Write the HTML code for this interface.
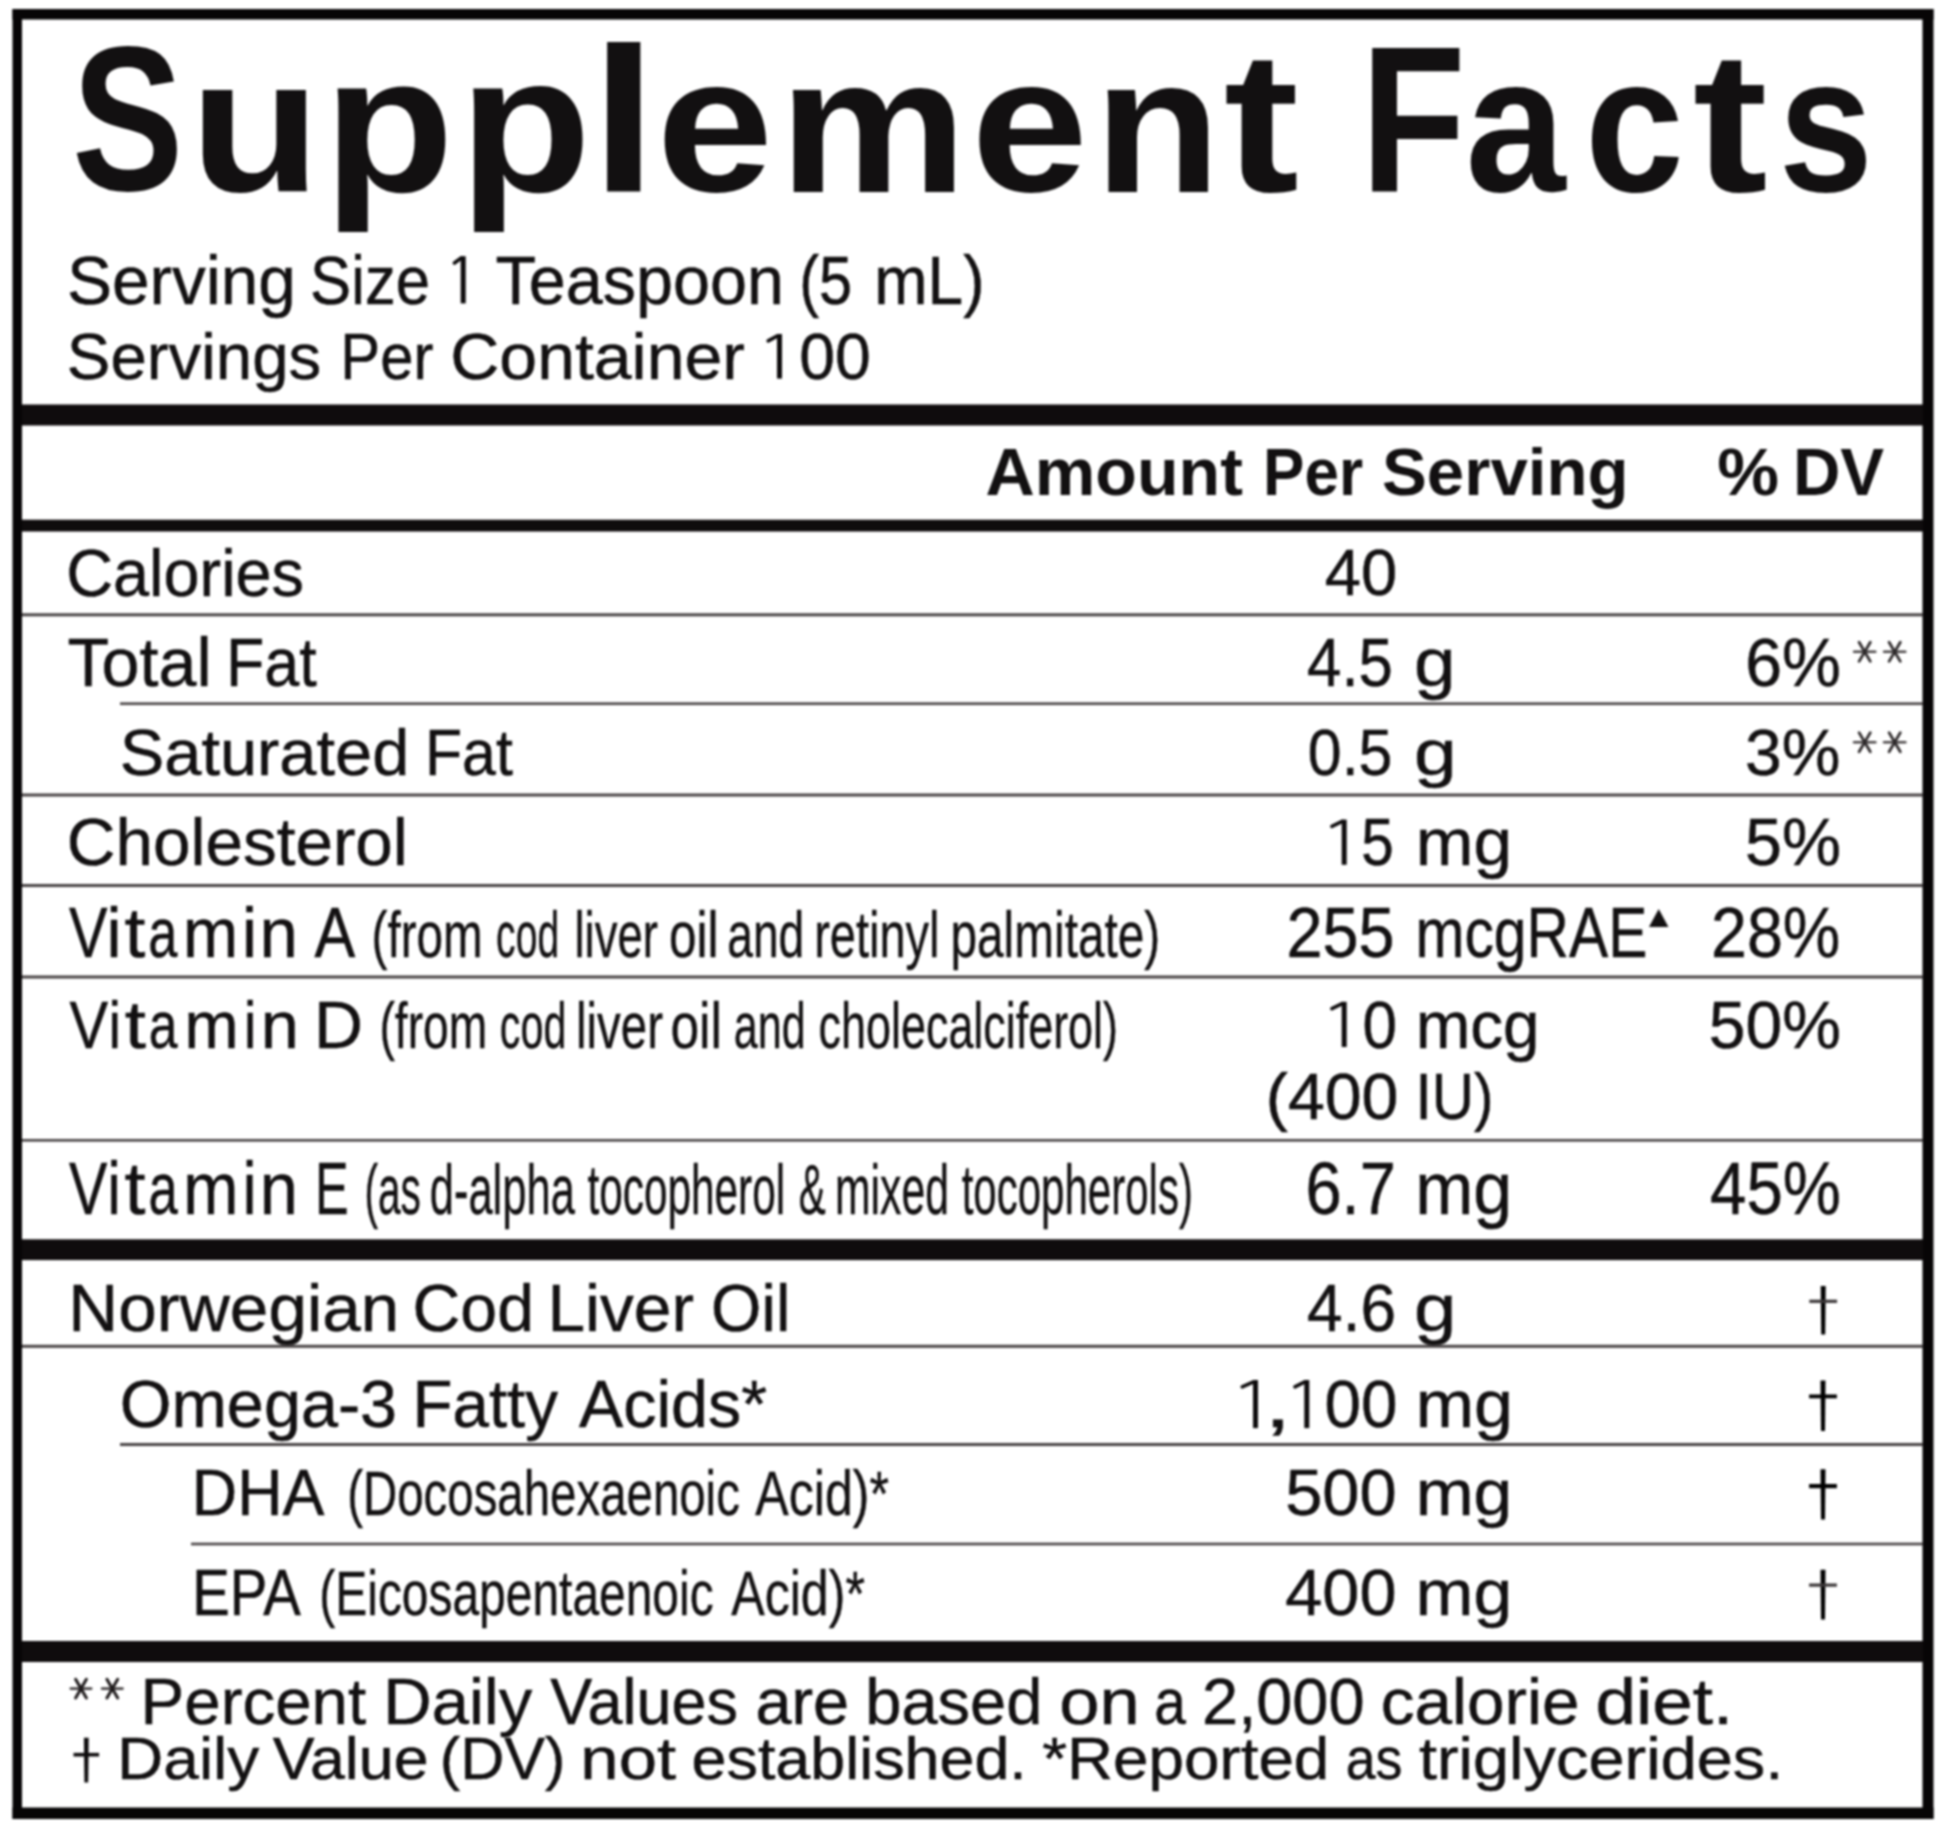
<!DOCTYPE html>
<html><head><meta charset="utf-8"><style>
html,body{margin:0;padding:0;background:#fff;}
svg{display:block;filter:blur(0.8px);}
text{font-family:"Liberation Sans",sans-serif;fill:#121011;}
</style></head><body>
<svg width="1946" height="1826" viewBox="0 0 1946 1826">
<rect x="0" y="0" width="1946" height="1826" fill="#fff"/>
<text transform="translate(71.99,190.33) scale(0.8350,1.0338)" font-size="200.00" font-weight="bold" fill="#1c1819">S</text>
<text transform="translate(189.50,191.09) scale(1.0753,0.9528)" font-size="200.00" font-weight="bold" fill="#1c1819">u</text>
<text transform="translate(323.61,192.48) scale(1.0683,0.9767)" font-size="200.00" font-weight="bold" fill="#1c1819">p</text>
<text transform="translate(459.12,192.48) scale(1.0832,0.9767)" font-size="200.00" font-weight="bold" fill="#1c1819">p</text>
<text transform="translate(590.35,191.17) scale(1.2107,1.0267)" font-size="200.00" font-weight="bold" fill="#1c1819">l</text>
<text transform="translate(656.61,191.08) scale(1.0490,0.9609)" font-size="200.00" font-weight="bold" fill="#1c1819">e</text>
<text transform="translate(778.95,192.20) scale(1.0575,0.9685)" font-size="200.00" font-weight="bold" fill="#1c1819">m</text>
<text transform="translate(971.31,191.08) scale(1.0490,0.9609)" font-size="200.00" font-weight="bold" fill="#1c1819">e</text>
<text transform="translate(1093.90,192.20) scale(1.0381,0.9685)" font-size="200.00" font-weight="bold" fill="#1c1819">n</text>
<text transform="translate(1223.84,190.98) scale(1.1306,1.0075)" font-size="200.00" font-weight="bold" fill="#1c1819">t</text>
<text transform="translate(1360.64,192.20) scale(0.8588,1.0362)" font-size="200.00" font-weight="bold" fill="#1c1819">F</text>
<text transform="translate(1465.60,191.07) scale(0.9000,0.9673)" font-size="200.00" font-weight="bold" fill="#1c1819">a</text>
<text transform="translate(1585.08,191.07) scale(0.8897,0.9673)" font-size="200.00" font-weight="bold" fill="#1c1819">c</text>
<text transform="translate(1692.75,190.99) scale(1.1258,1.0038)" font-size="200.00" font-weight="bold" fill="#1c1819">t</text>
<text transform="translate(1778.77,191.07) scale(0.8469,0.9673)" font-size="200.00" font-weight="bold" fill="#1c1819">s</text>
<text transform="translate(66.95,303.50) scale(0.9823,1)" font-size="68.75" font-weight="normal" stroke="#121011" stroke-width="0.5">Serving</text>
<text transform="translate(310.11,303.50) scale(0.8961,1)" font-size="68.75" font-weight="normal" stroke="#121011" stroke-width="0.5">Size</text>
<text transform="translate(495.53,303.50) scale(0.9676,1)" font-size="68.75" font-weight="normal" stroke="#121011" stroke-width="0.5">Teaspoon</text>
<text transform="translate(799.23,303.50) scale(0.8667,1)" font-size="68.75" font-weight="normal" stroke="#121011" stroke-width="0.5">(5</text>
<text transform="translate(874.24,303.50) scale(0.9312,1)" font-size="68.75" font-weight="normal" stroke="#121011" stroke-width="0.5">mL)</text>
<text transform="translate(66.87,378.60) scale(1.0085,1)" font-size="64.83" font-weight="normal" stroke="#121011" stroke-width="0.5">Servings</text>
<text transform="translate(340.29,378.60) scale(0.9221,1)" font-size="64.83" font-weight="normal" stroke="#121011" stroke-width="0.5">Per</text>
<text transform="translate(450.25,378.60) scale(1.0487,1)" font-size="64.83" font-weight="normal" stroke="#121011" stroke-width="0.5">Container</text>
<text transform="translate(799.21,378.60) scale(0.9926,1)" font-size="64.83" font-weight="normal" stroke="#121011" stroke-width="0.5">00</text>
<text transform="translate(985.45,495.20) scale(1.0237,1)" font-size="66.57" font-weight="bold">Amount</text>
<text transform="translate(1263.07,495.20) scale(0.9314,1)" font-size="66.57" font-weight="bold">Per</text>
<text transform="translate(1381.98,495.20) scale(1.0105,1)" font-size="66.57" font-weight="bold">Serving</text>
<text transform="translate(1717.31,495.20) scale(1.0436,1)" font-size="66.57" font-weight="bold">%</text>
<text transform="translate(1792.95,495.20) scale(0.9864,1)" font-size="66.57" font-weight="bold">DV</text>
<text transform="translate(66.26,596.00) scale(0.9802,1)" font-size="66.13" font-weight="normal" stroke="#121011" stroke-width="0.5">Calories</text>
<text transform="translate(1324.79,594.80) scale(1.0132,1)" font-size="64.24" font-weight="normal" stroke="#121011" stroke-width="0.5">40</text>
<text transform="translate(67.50,685.60) scale(0.9986,1)" font-size="68.31" font-weight="normal" stroke="#121011" stroke-width="0.5">Total</text>
<text transform="translate(225.99,685.60) scale(0.9185,1)" font-size="68.31" font-weight="normal" stroke="#121011" stroke-width="0.5">Fat</text>
<text transform="translate(1307.10,685.60) scale(0.9033,1)" font-size="68.31" font-weight="normal" stroke="#121011" stroke-width="0.5">4.5</text>
<text transform="translate(1414.12,685.60) scale(1.0935,1)" font-size="68.31" font-weight="normal" stroke="#121011" stroke-width="0.5">g</text>
<text transform="translate(1745.29,685.60) scale(0.9688,1)" font-size="68.31" font-weight="normal" stroke="#121011" stroke-width="0.5">6%</text>
<text transform="translate(119.75,775.30) scale(1.0165,1)" font-size="65.70" font-weight="normal" stroke="#121011" stroke-width="0.5">Saturated</text>
<text transform="translate(424.97,775.30) scale(0.9256,1)" font-size="65.70" font-weight="normal" stroke="#121011" stroke-width="0.5">Fat</text>
<text transform="translate(1307.85,775.30) scale(0.9253,1)" font-size="65.70" font-weight="normal" stroke="#121011" stroke-width="0.5">0.5</text>
<text transform="translate(1413.89,775.30) scale(1.1690,1)" font-size="65.70" font-weight="normal" stroke="#121011" stroke-width="0.5">g</text>
<text transform="translate(1744.99,775.30) scale(1.0033,1)" font-size="65.70" font-weight="normal" stroke="#121011" stroke-width="0.5">3%</text>
<text transform="translate(66.74,865.00) scale(1.0199,1)" font-size="66.13" font-weight="normal" stroke="#121011" stroke-width="0.5">Cholesterol</text>
<text transform="translate(1361.15,865.00) scale(0.8839,1)" font-size="66.13" font-weight="normal" stroke="#121011" stroke-width="0.5">5</text>
<text transform="translate(1415.80,865.00) scale(1.0488,1)" font-size="66.13" font-weight="normal" stroke="#121011" stroke-width="0.5">mg</text>
<text transform="translate(1744.99,865.00) scale(1.0033,1)" font-size="66.13" font-weight="normal" stroke="#121011" stroke-width="0.5">5%</text>
<text transform="translate(69.00,957.20) scale(0.8239,1)" font-size="70.06" font-weight="normal" stroke="#121011" stroke-width="0.5">V</text>
<text transform="translate(106.57,957.20) scale(0.9667,1)" font-size="70.06" font-weight="normal" stroke="#121011" stroke-width="0.5">i</text>
<text transform="translate(124.43,957.20) scale(1.0722,1)" font-size="70.06" font-weight="normal" stroke="#121011" stroke-width="0.5">t</text>
<text transform="translate(148.36,957.20) scale(0.7472,1)" font-size="70.06" font-weight="normal" stroke="#121011" stroke-width="0.5">a</text>
<text transform="translate(183.08,957.20) scale(0.9449,1)" font-size="70.06" font-weight="normal" stroke="#121011" stroke-width="0.5">m</text>
<text transform="translate(242.07,957.20) scale(0.9667,1)" font-size="70.06" font-weight="normal" stroke="#121011" stroke-width="0.5">i</text>
<text transform="translate(259.38,957.20) scale(0.9833,1)" font-size="70.06" font-weight="normal" stroke="#121011" stroke-width="0.5">n</text>
<text transform="translate(314.40,957.20) scale(0.8717,1)" font-size="70.06" font-weight="normal" stroke="#121011" stroke-width="0.5">A</text>
<text transform="translate(1286.43,957.20) scale(0.9243,1)" font-size="70.06" font-weight="normal" stroke="#121011" stroke-width="0.5">255</text>
<text transform="translate(1415.40,957.20) scale(0.8398,1)" font-size="70.06" font-weight="normal" stroke="#121011" stroke-width="0.5">mcgRAE</text>
<text transform="translate(1710.93,957.20) scale(0.9230,1)" font-size="70.06" font-weight="normal" stroke="#121011" stroke-width="0.5">28%</text>
<text transform="translate(1642.28,927.40) scale(0.1664,0.1543)" font-size="200.00" font-weight="normal">▲</text>
<text transform="translate(371.59,957.20) scale(0.7285,1)" font-size="65.41" font-weight="normal" stroke="#121011" stroke-width="0.4">(from</text>
<text transform="translate(496.11,957.20) scale(0.5980,1)" font-size="65.41" font-weight="normal" stroke="#121011" stroke-width="0.4">cod</text>
<text transform="translate(574.42,957.20) scale(0.6957,1)" font-size="65.41" font-weight="normal" stroke="#121011" stroke-width="0.4">liver</text>
<text transform="translate(669.03,957.20) scale(0.7569,1)" font-size="65.41" font-weight="normal" stroke="#121011" stroke-width="0.4">oil</text>
<text transform="translate(727.18,957.20) scale(0.7069,1)" font-size="65.41" font-weight="normal" stroke="#121011" stroke-width="0.4">and</text>
<text transform="translate(814.13,957.20) scale(0.7181,1)" font-size="65.41" font-weight="normal" stroke="#121011" stroke-width="0.4">retinyl</text>
<text transform="translate(950.48,957.20) scale(0.7305,1)" font-size="65.41" font-weight="normal" stroke="#121011" stroke-width="0.4">palmitate)</text>
<text transform="translate(69.50,1048.00) scale(0.8614,1)" font-size="67.30" font-weight="normal" stroke="#121011" stroke-width="0.5">V</text>
<text transform="translate(108.59,1048.00) scale(0.8286,1)" font-size="67.30" font-weight="normal" stroke="#121011" stroke-width="0.5">i</text>
<text transform="translate(124.86,1048.00) scale(1.1353,1)" font-size="67.30" font-weight="normal" stroke="#121011" stroke-width="0.5">t</text>
<text transform="translate(148.79,1048.00) scale(0.7686,1)" font-size="67.30" font-weight="normal" stroke="#121011" stroke-width="0.5">a</text>
<text transform="translate(184.44,1048.00) scale(0.9646,1)" font-size="67.30" font-weight="normal" stroke="#121011" stroke-width="0.5">m</text>
<text transform="translate(244.09,1048.00) scale(0.8286,1)" font-size="67.30" font-weight="normal" stroke="#121011" stroke-width="0.5">i</text>
<text transform="translate(260.73,1048.00) scale(1.0172,1)" font-size="67.30" font-weight="normal" stroke="#121011" stroke-width="0.5">n</text>
<text transform="translate(313.96,1048.00) scale(1.0075,1)" font-size="67.30" font-weight="normal" stroke="#121011" stroke-width="0.5">D</text>
<text transform="translate(1362.43,1048.00) scale(0.9219,1)" font-size="67.30" font-weight="normal" stroke="#121011" stroke-width="0.5">0</text>
<text transform="translate(1415.70,1048.00) scale(0.9748,1)" font-size="67.30" font-weight="normal" stroke="#121011" stroke-width="0.5">mcg</text>
<text transform="translate(1708.86,1048.00) scale(0.9806,1)" font-size="67.30" font-weight="normal" stroke="#121011" stroke-width="0.5">50%</text>
<text transform="translate(379.44,1048.00) scale(0.7147,1)" font-size="64.68" font-weight="normal" stroke="#121011" stroke-width="0.4">(from</text>
<text transform="translate(499.79,1048.00) scale(0.6381,1)" font-size="64.68" font-weight="normal" stroke="#121011" stroke-width="0.4">cod</text>
<text transform="translate(576.07,1048.00) scale(0.7325,1)" font-size="64.68" font-weight="normal" stroke="#121011" stroke-width="0.4">liver</text>
<text transform="translate(670.41,1048.00) scale(0.7965,1)" font-size="64.68" font-weight="normal" stroke="#121011" stroke-width="0.4">oil</text>
<text transform="translate(733.70,1048.00) scale(0.6673,1)" font-size="64.68" font-weight="normal" stroke="#121011" stroke-width="0.4">and</text>
<text transform="translate(818.62,1048.00) scale(0.6943,1)" font-size="64.68" font-weight="normal" stroke="#121011" stroke-width="0.4">cholecalciferol)</text>
<text transform="translate(1265.85,1118.50) scale(1.0129,1)" font-size="65.41" font-weight="normal" stroke="#121011" stroke-width="0.5">(400</text>
<text transform="translate(1415.43,1118.50) scale(0.8948,1)" font-size="65.41" font-weight="normal" stroke="#121011" stroke-width="0.5">IU)</text>
<text transform="translate(69.00,1214.20) scale(0.7735,1)" font-size="74.42" font-weight="normal" stroke="#121011" stroke-width="0.5">V</text>
<text transform="translate(107.26,1214.20) scale(0.8286,1)" font-size="74.42" font-weight="normal" stroke="#121011" stroke-width="0.5">i</text>
<text transform="translate(124.48,1214.20) scale(1.0158,1)" font-size="74.42" font-weight="normal" stroke="#121011" stroke-width="0.5">t</text>
<text transform="translate(148.48,1214.20) scale(0.7079,1)" font-size="74.42" font-weight="normal" stroke="#121011" stroke-width="0.5">a</text>
<text transform="translate(183.35,1214.20) scale(0.8904,1)" font-size="74.42" font-weight="normal" stroke="#121011" stroke-width="0.5">m</text>
<text transform="translate(242.76,1214.20) scale(0.8286,1)" font-size="74.42" font-weight="normal" stroke="#121011" stroke-width="0.5">i</text>
<text transform="translate(259.69,1214.20) scale(0.9219,1)" font-size="74.42" font-weight="normal" stroke="#121011" stroke-width="0.5">n</text>
<text transform="translate(314.93,1214.20) scale(0.6780,1)" font-size="74.42" font-weight="normal" stroke="#121011" stroke-width="0.5">E</text>
<text transform="translate(1305.40,1214.20) scale(0.8740,1)" font-size="74.42" font-weight="normal" stroke="#121011" stroke-width="0.5">6.7</text>
<text transform="translate(1415.21,1214.20) scale(0.9383,1)" font-size="74.42" font-weight="normal" stroke="#121011" stroke-width="0.5">mg</text>
<text transform="translate(1710.04,1214.20) scale(0.8785,1)" font-size="74.42" font-weight="normal" stroke="#121011" stroke-width="0.5">45%</text>
<text transform="translate(364.47,1214.20) scale(0.5822,1)" font-size="69.77" font-weight="normal" stroke="#121011" stroke-width="0.4">(as</text>
<text transform="translate(429.73,1214.20) scale(0.6235,1)" font-size="69.77" font-weight="normal" stroke="#121011" stroke-width="0.4">d-alpha</text>
<text transform="translate(587.39,1214.20) scale(0.6072,1)" font-size="69.77" font-weight="normal" stroke="#121011" stroke-width="0.4">tocopherol</text>
<text transform="translate(798.64,1214.20) scale(0.5795,1)" font-size="69.77" font-weight="normal" stroke="#121011" stroke-width="0.4">&amp;</text>
<text transform="translate(834.94,1214.20) scale(0.6124,1)" font-size="69.77" font-weight="normal" stroke="#121011" stroke-width="0.4">mixed</text>
<text transform="translate(961.70,1214.20) scale(0.6024,1)" font-size="69.77" font-weight="normal" stroke="#121011" stroke-width="0.4">tocopherols)</text>
<text transform="translate(68.15,1331.00) scale(1.0298,1)" font-size="67.30" font-weight="normal" stroke="#121011" stroke-width="0.5">Norwegian</text>
<text transform="translate(412.55,1331.00) scale(0.9836,1)" font-size="67.30" font-weight="normal" stroke="#121011" stroke-width="0.5">Cod</text>
<text transform="translate(547.38,1331.00) scale(1.0050,1)" font-size="67.30" font-weight="normal" stroke="#121011" stroke-width="0.5">Liver</text>
<text transform="translate(711.11,1331.00) scale(0.9627,1)" font-size="67.30" font-weight="normal" stroke="#121011" stroke-width="0.5">Oil</text>
<text transform="translate(1307.05,1331.00) scale(0.9511,1)" font-size="67.30" font-weight="normal" stroke="#121011" stroke-width="0.5">4.6</text>
<text transform="translate(1414.01,1331.00) scale(1.1300,1)" font-size="67.30" font-weight="normal" stroke="#121011" stroke-width="0.5">g</text>
<text transform="translate(119.70,1426.80) scale(0.9996,1)" font-size="66.57" font-weight="normal" stroke="#121011" stroke-width="0.5">Omega-3</text>
<text transform="translate(412.48,1426.80) scale(0.9839,1)" font-size="66.57" font-weight="normal" stroke="#121011" stroke-width="0.5">Fatty</text>
<text transform="translate(579.00,1426.80) scale(0.9963,1)" font-size="66.57" font-weight="normal" stroke="#121011" stroke-width="0.5">Acids*</text>
<text transform="translate(1264.26,1426.80) scale(1.4571,1)" font-size="66.57" font-weight="normal" stroke="#121011" stroke-width="0.5">,</text>
<text transform="translate(1324.44,1426.80) scale(0.9853,1)" font-size="66.57" font-weight="normal" stroke="#121011" stroke-width="0.5">00</text>
<text transform="translate(1415.70,1426.80) scale(1.0500,1)" font-size="66.57" font-weight="normal" stroke="#121011" stroke-width="0.5">mg</text>
<text transform="translate(191.80,1514.50) scale(0.9602,1)" font-size="65.41" font-weight="normal" stroke="#121011" stroke-width="0.5">DHA</text>
<text transform="translate(1285.13,1514.50) scale(1.0221,1)" font-size="65.41" font-weight="normal" stroke="#121011" stroke-width="0.5">500</text>
<text transform="translate(1415.65,1514.50) scale(1.0627,1)" font-size="65.41" font-weight="normal" stroke="#121011" stroke-width="0.5">mg</text>
<text transform="translate(347.17,1514.50) scale(0.7586,1)" font-size="62.50" font-weight="normal" stroke="#121011" stroke-width="0.4">(Docosahexaenoic</text>
<text transform="translate(755.30,1514.50) scale(0.8024,1)" font-size="62.50" font-weight="normal" stroke="#121011" stroke-width="0.4">Acid)*</text>
<text transform="translate(192.25,1615.20) scale(0.8706,1)" font-size="64.68" font-weight="normal" stroke="#121011" stroke-width="0.5">EPA</text>
<text transform="translate(1285.27,1615.20) scale(1.0305,1)" font-size="64.68" font-weight="normal" stroke="#121011" stroke-width="0.5">400</text>
<text transform="translate(1415.60,1615.20) scale(1.0756,1)" font-size="64.68" font-weight="normal" stroke="#121011" stroke-width="0.5">mg</text>
<text transform="translate(319.33,1615.20) scale(0.7668,1)" font-size="62.50" font-weight="normal" stroke="#121011" stroke-width="0.4">(Eicosapentaenoic</text>
<text transform="translate(731.20,1615.20) scale(0.8024,1)" font-size="62.50" font-weight="normal" stroke="#121011" stroke-width="0.4">Acid)*</text>
<text transform="translate(140.56,1723.50) scale(1.0078,1)" font-size="64.97" font-weight="normal" stroke="#121011" stroke-width="0.5">Percent</text>
<text transform="translate(383.24,1723.50) scale(1.0317,1)" font-size="64.97" font-weight="normal" stroke="#121011" stroke-width="0.5">Daily</text>
<text transform="translate(550.30,1723.50) scale(0.9686,1)" font-size="64.97" font-weight="normal" stroke="#121011" stroke-width="0.5">Values</text>
<text transform="translate(755.40,1723.50) scale(0.9989,1)" font-size="64.97" font-weight="normal" stroke="#121011" stroke-width="0.5">are</text>
<text transform="translate(865.30,1723.50) scale(1.0006,1)" font-size="64.97" font-weight="normal" stroke="#121011" stroke-width="0.5">based</text>
<text transform="translate(1059.26,1723.50) scale(1.1138,1)" font-size="64.97" font-weight="normal" stroke="#121011" stroke-width="0.5">on</text>
<text transform="translate(1154.17,1723.50) scale(0.8758,1)" font-size="64.97" font-weight="normal" stroke="#121011" stroke-width="0.5">a</text>
<text transform="translate(1202.00,1723.50) scale(1.0006,1)" font-size="64.97" font-weight="normal" stroke="#121011" stroke-width="0.5">2,000</text>
<text transform="translate(1380.68,1723.50) scale(1.0387,1)" font-size="64.97" font-weight="normal" stroke="#121011" stroke-width="0.5">calorie</text>
<text transform="translate(1595.43,1723.50) scale(1.1228,1)" font-size="64.97" font-weight="normal" stroke="#121011" stroke-width="0.5">diet.</text>
<text transform="translate(117.03,1779.20) scale(1.0748,1)" font-size="59.59" font-weight="normal" stroke="#121011" stroke-width="0.5">Daily</text>
<text transform="translate(272.80,1779.20) scale(1.0524,1)" font-size="59.59" font-weight="normal" stroke="#121011" stroke-width="0.5">Value</text>
<text transform="translate(439.80,1779.20) scale(1.0261,1)" font-size="59.59" font-weight="normal" stroke="#121011" stroke-width="0.5">(DV)</text>
<text transform="translate(580.37,1779.20) scale(1.1564,1)" font-size="59.59" font-weight="normal" stroke="#121011" stroke-width="0.5">not</text>
<text transform="translate(691.59,1779.20) scale(1.0540,1)" font-size="59.59" font-weight="normal" stroke="#121011" stroke-width="0.5">established.</text>
<text transform="translate(1042.13,1779.20) scale(1.0705,1)" font-size="59.59" font-weight="normal" stroke="#121011" stroke-width="0.5">*Reported</text>
<text transform="translate(1345.80,1779.20) scale(0.9000,1)" font-size="59.59" font-weight="normal" stroke="#121011" stroke-width="0.5">as</text>
<text transform="translate(1418.91,1779.20) scale(1.0899,1)" font-size="59.59" font-weight="normal" stroke="#121011" stroke-width="0.5">triglycerides.</text>
<path d="M1854.1,651.8H1875.3" stroke="#4a4647" stroke-width="2.52" stroke-linecap="round" fill="none"/>
<path d="M1859.1,642.2L1870.3,661.4M1870.3,642.2L1859.1,661.4" stroke="#2e2a2b" stroke-width="2.8" stroke-linecap="round" fill="none"/>
<path d="M1884.1,651.8H1905.3" stroke="#4a4647" stroke-width="2.52" stroke-linecap="round" fill="none"/>
<path d="M1889.1,642.2L1900.3,661.4M1900.3,642.2L1889.1,661.4" stroke="#2e2a2b" stroke-width="2.8" stroke-linecap="round" fill="none"/>
<path d="M1854.1,742.2H1875.3" stroke="#4a4647" stroke-width="2.52" stroke-linecap="round" fill="none"/>
<path d="M1859.1,732.6L1870.3,751.8M1870.3,732.6L1859.1,751.8" stroke="#2e2a2b" stroke-width="2.8" stroke-linecap="round" fill="none"/>
<path d="M1884.1,742.2H1905.3" stroke="#4a4647" stroke-width="2.52" stroke-linecap="round" fill="none"/>
<path d="M1889.1,732.6L1900.3,751.8M1900.3,732.6L1889.1,751.8" stroke="#2e2a2b" stroke-width="2.8" stroke-linecap="round" fill="none"/>
<path d="M70.8,1688.6H91.2" stroke="#4a4647" stroke-width="2.70" stroke-linecap="round" fill="none"/>
<path d="M75.6,1679.3L86.4,1697.9M86.4,1679.3L75.6,1697.9" stroke="#1e1a1b" stroke-width="3.0" stroke-linecap="round" fill="none"/>
<path d="M102.1,1688.6H122.5" stroke="#4a4647" stroke-width="2.70" stroke-linecap="round" fill="none"/>
<path d="M106.9,1679.3L117.7,1697.9M117.7,1679.3L106.9,1697.9" stroke="#1e1a1b" stroke-width="3.0" stroke-linecap="round" fill="none"/>
<path d="M1820.70,1286.1L1825.70,1286.1L1825.20,1334.4L1821.20,1334.4Z" fill="#000"/>
<rect x="1809.3" y="1299.7" width="27.8" height="3.2" fill="#3a3637"/>
<path d="M1820.50,1380.5L1825.50,1380.5L1825.00,1431.0L1821.00,1431.0Z" fill="#000"/>
<rect x="1809.1" y="1394.5" width="27.8" height="3.8" fill="#000"/>
<path d="M1820.50,1469.3L1825.50,1469.3L1825.00,1519.5L1821.00,1519.5Z" fill="#000"/>
<rect x="1809.1" y="1484.0" width="27.8" height="4.2" fill="#000"/>
<path d="M1820.50,1569.8L1825.50,1569.8L1825.00,1619.5L1821.00,1619.5Z" fill="#000"/>
<rect x="1809.1" y="1583.5" width="27.8" height="3.2" fill="#3a3637"/>
<path d="M83.90,1737.8L88.70,1737.8L88.20,1782.6L84.40,1782.6Z" fill="#0e0c0d"/>
<rect x="73.5" y="1752.9" width="25.6" height="3.6" fill="#0e0c0d"/>
<rect x="460.70" y="256.20" width="5.0" height="47.20" fill="#0e0c0d"/>
<path d="M461.20,258.00L454.40,263.00" stroke="#0e0c0d" stroke-width="3.6" stroke-linecap="round" fill="none"/>
<rect x="777.00" y="334.00" width="5.0" height="44.60" fill="#0e0c0d"/>
<path d="M777.50,335.80L768.20,340.80" stroke="#0e0c0d" stroke-width="3.6" stroke-linecap="round" fill="none"/>
<rect x="1341.70" y="819.60" width="5.0" height="45.20" fill="#0e0c0d"/>
<path d="M1342.20,821.40L1331.90,826.40" stroke="#0e0c0d" stroke-width="3.6" stroke-linecap="round" fill="none"/>
<rect x="1341.70" y="1001.80" width="5.0" height="45.20" fill="#0e0c0d"/>
<path d="M1342.20,1003.60L1331.90,1008.60" stroke="#0e0c0d" stroke-width="3.6" stroke-linecap="round" fill="none"/>
<rect x="1253.00" y="1380.00" width="5.0" height="48.10" fill="#0e0c0d"/>
<path d="M1253.50,1381.80L1242.20,1386.80" stroke="#0e0c0d" stroke-width="3.6" stroke-linecap="round" fill="none"/>
<rect x="1304.30" y="1380.00" width="5.0" height="48.10" fill="#0e0c0d"/>
<path d="M1304.80,1381.80L1294.90,1386.80" stroke="#0e0c0d" stroke-width="3.6" stroke-linecap="round" fill="none"/>
<rect x="12.5" y="9" width="1921" height="10.5" fill="#070506"/>
<rect x="12.5" y="9" width="9.5" height="1810" fill="#070506"/>
<rect x="1922.5" y="9" width="11" height="1810" fill="#070506"/>
<rect x="12.5" y="1807.5" width="1921" height="11.5" fill="#070506"/>
<rect x="22" y="404.5" width="1901" height="21" fill="#0f0c0d"/>
<rect x="22" y="519.7" width="1901" height="11.8" fill="#0f0c0d"/>
<rect x="22" y="1239.3" width="1901" height="20.8" fill="#0f0c0d"/>
<rect x="22" y="1641" width="1901" height="21" fill="#0f0c0d"/>
<rect x="22" y="613.3" width="1901" height="3" fill="#484344"/>
<rect x="120" y="702.4000000000001" width="1803" height="2.6" fill="#484344"/>
<rect x="22" y="793.5" width="1901" height="3" fill="#484344"/>
<rect x="22" y="884.0" width="1901" height="3" fill="#484344"/>
<rect x="22" y="975.5" width="1901" height="3" fill="#484344"/>
<rect x="22" y="1139.0" width="1901" height="2.6" fill="#484344"/>
<rect x="22" y="1344.8" width="1901" height="3" fill="#484344"/>
<rect x="120" y="1443.0" width="1803" height="3" fill="#484344"/>
<rect x="191" y="1542.7" width="1732" height="2.6" fill="#484344"/>
</svg>
</body></html>
